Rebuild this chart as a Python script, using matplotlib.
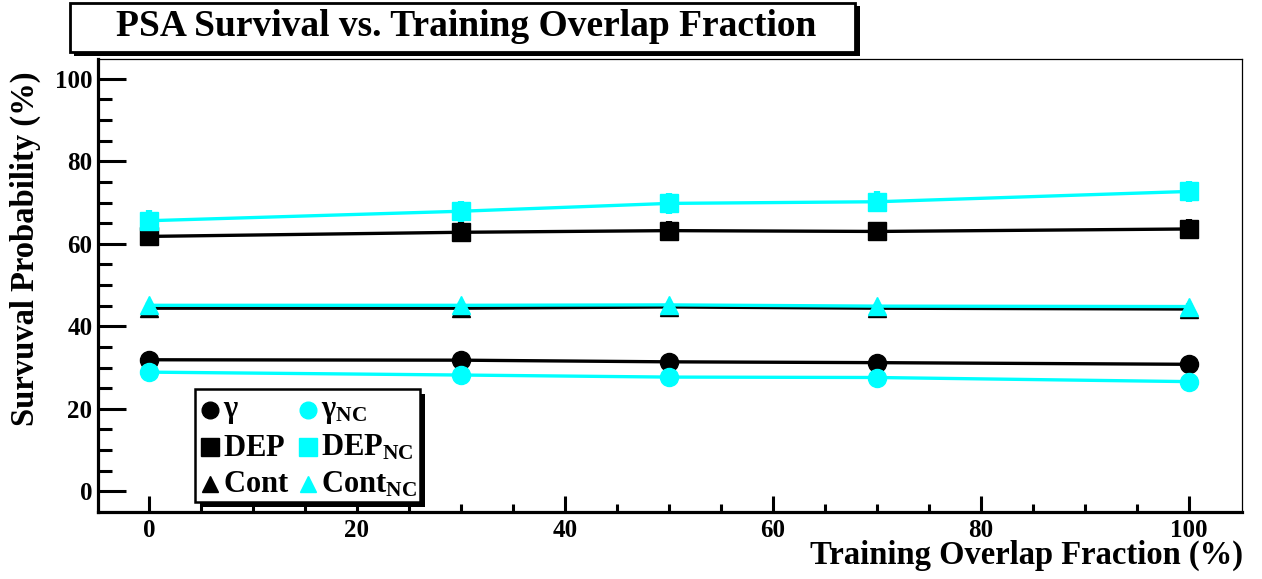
import matplotlib
matplotlib.use("Agg")
import matplotlib.pyplot as plt
from matplotlib.patches import Rectangle
import numpy as np

plt.rcParams['font.family'] = ['Liberation Serif', 'DejaVu Serif']
plt.rcParams['font.weight'] = 'bold'
plt.rcParams['mathtext.fontset'] = 'custom'
plt.rcParams['mathtext.rm'] = 'Liberation Serif:bold'
plt.rcParams['mathtext.bf'] = 'Liberation Serif:bold'
plt.rcParams['mathtext.it'] = 'Liberation Serif:bold'

# ---- data ----
overlap = [0, 30, 50, 70, 100]
gamma = [31.9, 31.8, 31.4, 31.2, 30.8]
gamma_nc = [28.9, 28.2, 27.7, 27.6, 26.6]
dep = [61.8, 62.8, 63.2, 63.0, 63.6]
dep_nc = [65.6, 67.9, 69.8, 70.2, 72.7]
cont = [44.4, 44.4, 44.7, 44.4, 44.2]
cont_nc = [45.1, 45.1, 45.2, 44.9, 44.8]
dep_err = [2.4, 2.4, 2.4, 2.4, 2.4]
dep_nc_err = [2.6, 2.6, 2.6, 2.6, 2.6]
small_err = [0.8, 0.8, 0.8, 0.8, 0.8]

title = "PSA Survival vs. Training Overlap Fraction"
xlabel = "Training Overlap Fraction (%)"
ylabel = "Survuval Probability (%)"
legend_labels = [r'$\mathbf{γ}$', r'$\mathbf{DEP}$', r'$\mathbf{Cont}$',
                 r'$\mathbf{γ}_{\mathbf{NC}}$', r'$\mathbf{DEP}_{\mathbf{NC}}$', r'$\mathbf{Cont}_{\mathbf{NC}}$']

W, H = 1262, 579
fig = plt.figure(figsize=(W / 100, H / 100), dpi=100)

def fx(px):
    return px / W

def fy(py):
    return 1 - py / H

ax = fig.add_axes([fx(98), fy(512), fx(1242) - fx(98), fy(59) - fy(512)])
ax.set_xlim(-4.9, 105.1)
ax.set_ylim(-5.0, 104.8)

CYAN = '#00FFFF'
lw = 2.4
ms = 13

series = [
    (gamma, small_err, 'o', 'k'),
    (dep, dep_err, 's', 'k'),
    (cont, small_err, '^', 'k'),
    (gamma_nc, small_err, 'o', CYAN),
    (dep_nc, dep_nc_err, 's', CYAN),
    (cont_nc, small_err, '^', CYAN),
]
for vals, err, mk, col in series:
    ax.errorbar(overlap, vals, yerr=err, fmt='-' + mk, color=col, mfc=col, mec=col,
                ms=ms, lw=lw, elinewidth=4.5, capsize=0)

# spines
for s in ['left', 'bottom']:
    ax.spines[s].set_linewidth(2.3)
for s in ['top', 'right']:
    ax.spines[s].set_linewidth(0.9)

ax.set_xticks([0, 20, 40, 60, 80, 100])
ax.set_xticks(np.arange(0, 101, 5), minor=True)
ax.set_yticks([0, 20, 40, 60, 80, 100])
ax.set_yticks(np.arange(0, 101, 5), minor=True)
ax.tick_params(axis='y', which='major', direction='in', length=20, width=2.2, labelsize=18, pad=4)
ax.tick_params(axis='y', which='minor', direction='in', length=10, width=2.2)
ax.tick_params(axis='x', which='major', direction='in', length=11.5, width=2.2, labelsize=18, pad=5)
ax.tick_params(axis='x', which='minor', direction='in', length=5.5, width=2.2)
for lbl in ax.get_xticklabels() + ax.get_yticklabels():
    lbl.set_fontweight('bold')

fig.text(fx(25), fy(71), ylabel, rotation=90, ha='center', va='top', fontsize=23.5, fontweight='bold')
fig.text(fx(1243), fy(555), xlabel, ha='right', va='center', fontsize=23.5, fontweight='bold')

# legend (drawn manually in figure pixel positions)
fig.patches.append(Rectangle((fx(200), fy(507)), fx(425) - fx(200), fy(394) - fy(507),
                             transform=fig.transFigure, facecolor='k', edgecolor='k', lw=0, zorder=5))
fig.patches.append(Rectangle((fx(195), fy(502)), fx(420) - fx(195), fy(389) - fy(502),
                             transform=fig.transFigure, facecolor='white', edgecolor='k', lw=1.8, zorder=6))
col_x = [210, 308]
row_y = [410, 447, 484]
for i, (vals, err, mk, col) in enumerate(series):
    c = i // 3
    r = i % 3
    fig.lines.append(plt.Line2D([fx(col_x[c])], [fy(row_y[r])], marker=mk, ms=12 if mk != 's' else 12.5,
                                color=col, mfc=col, mec=col, linestyle='none',
                                transform=fig.transFigure, zorder=7))
    fig.text(fx(col_x[c] + 13), fy(row_y[r] + 1), legend_labels[i], ha='left', va='center',
             fontsize=22, zorder=8)

# title box with shadow
fig.patches.append(Rectangle((fx(74), fy(56)), fx(860) - fx(74), fy(6) - fy(56),
                             transform=fig.transFigure, facecolor='k', edgecolor='k', lw=0))
fig.patches.append(Rectangle((fx(70), fy(52)), fx(855) - fx(70), fy(3) - fy(52),
                             transform=fig.transFigure, facecolor='white', edgecolor='k', lw=2.0))
fig.text(fx(466), fy(27), title, ha='center', va='center', fontsize=27, fontweight='bold')

fig.savefig('out.png', dpi=100)
